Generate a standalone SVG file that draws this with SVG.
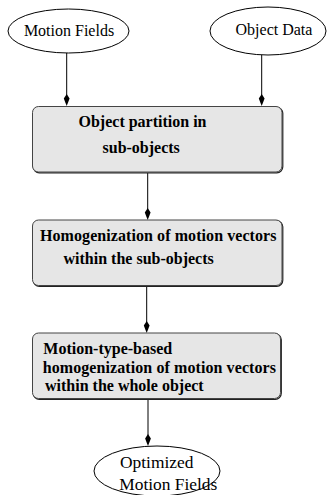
<svg xmlns="http://www.w3.org/2000/svg" width="328" height="495" viewBox="0 0 328 495">
<defs>
<style>
.ell{fill:#fff;stroke:#000;stroke-width:1}
.box{fill:#e6e6e6;stroke:#444;stroke-width:1}
.shadow{fill:none;stroke:#222;stroke-width:1.2}
.t{font-family:"Liberation Serif","Times New Roman",serif;font-size:16px;fill:#000}
.b{font-family:"Liberation Serif","Times New Roman",serif;font-size:16px;font-weight:bold;fill:#000}
.line{stroke:#000;stroke-width:1;fill:none}
.head{fill:#000}
</style>
</defs>
<rect width="328" height="495" fill="#fff"/>
<g id="connectors">
<line class="line" x1="66.7" y1="53" x2="66.7" y2="100"/>
<path class="head" d="M66.7,106 L63.8,98.5 L66.7,94 L69.6,98.5 Z"/>
<line class="line" x1="261.7" y1="55" x2="261.7" y2="100"/>
<path class="head" d="M261.7,106 L258.8,98.5 L261.7,94 L264.6,98.5 Z"/>
<line class="line" x1="147.7" y1="173" x2="147.7" y2="214"/>
<path class="head" d="M147.7,220 L144.8,212.5 L147.7,208 L150.6,212.5 Z"/>
<line class="line" x1="146.7" y1="286.5" x2="146.7" y2="327"/>
<path class="head" d="M146.7,333 L143.8,325.5 L146.7,321 L149.6,325.5 Z"/>
<line class="line" x1="148" y1="399.5" x2="148" y2="440"/>
<path class="head" d="M148,446 L145.1,438.5 L148,434 L150.9,438.5 Z"/>
</g>
<g id="motion-fields">
<ellipse class="ell" cx="68.5" cy="31" rx="60.5" ry="22"/>
<text class="t" x="69" y="36" text-anchor="middle">Motion Fields</text>
</g>
<g id="object-data">
<ellipse class="ell" cx="268" cy="31" rx="58" ry="24"/>
<text class="t" x="274" y="35" text-anchor="middle">Object Data</text>
</g>
<g id="partition">
<rect class="shadow" x="33.3" y="107.3" width="249.5" height="65.5" rx="6"/>
<rect class="box" x="32.5" y="106.5" width="249.5" height="65.5" rx="6"/>
<text class="b" x="78.5" y="127">Object partition in</text>
<text class="b" x="102.5" y="153">sub-objects</text>
</g>
<g id="homog-sub">
<rect class="shadow" x="33.3" y="220.8" width="249.5" height="65.5" rx="6"/>
<rect class="box" x="32.5" y="220" width="249.5" height="65.5" rx="6"/>
<text class="b" x="40" y="241" textLength="236.5">Homogenization of motion vectors</text>
<text class="b" x="63.5" y="264">within the sub-objects</text>
</g>
<g id="homog-whole">
<rect class="shadow" x="33.3" y="333.8" width="248" height="65.5" rx="6"/>
<rect class="box" x="32.5" y="333" width="248" height="65.5" rx="6"/>
<text class="b" x="43.3" y="354">Motion-type-based</text>
<text class="b" x="42.7" y="372.5" textLength="233.3">homogenization of motion vectors</text>
<text class="b" x="45" y="391">within the whole object</text>
</g>
<g id="optimized">
<ellipse class="ell" cx="157" cy="471" rx="63" ry="25"/>
<text class="t" x="156.7" y="467.5" text-anchor="middle" style="font-size:17.4px">Optimized</text>
<text class="t" x="168.3" y="490" text-anchor="middle" style="font-size:17.4px">Motion Fields</text>
</g>
</svg>
